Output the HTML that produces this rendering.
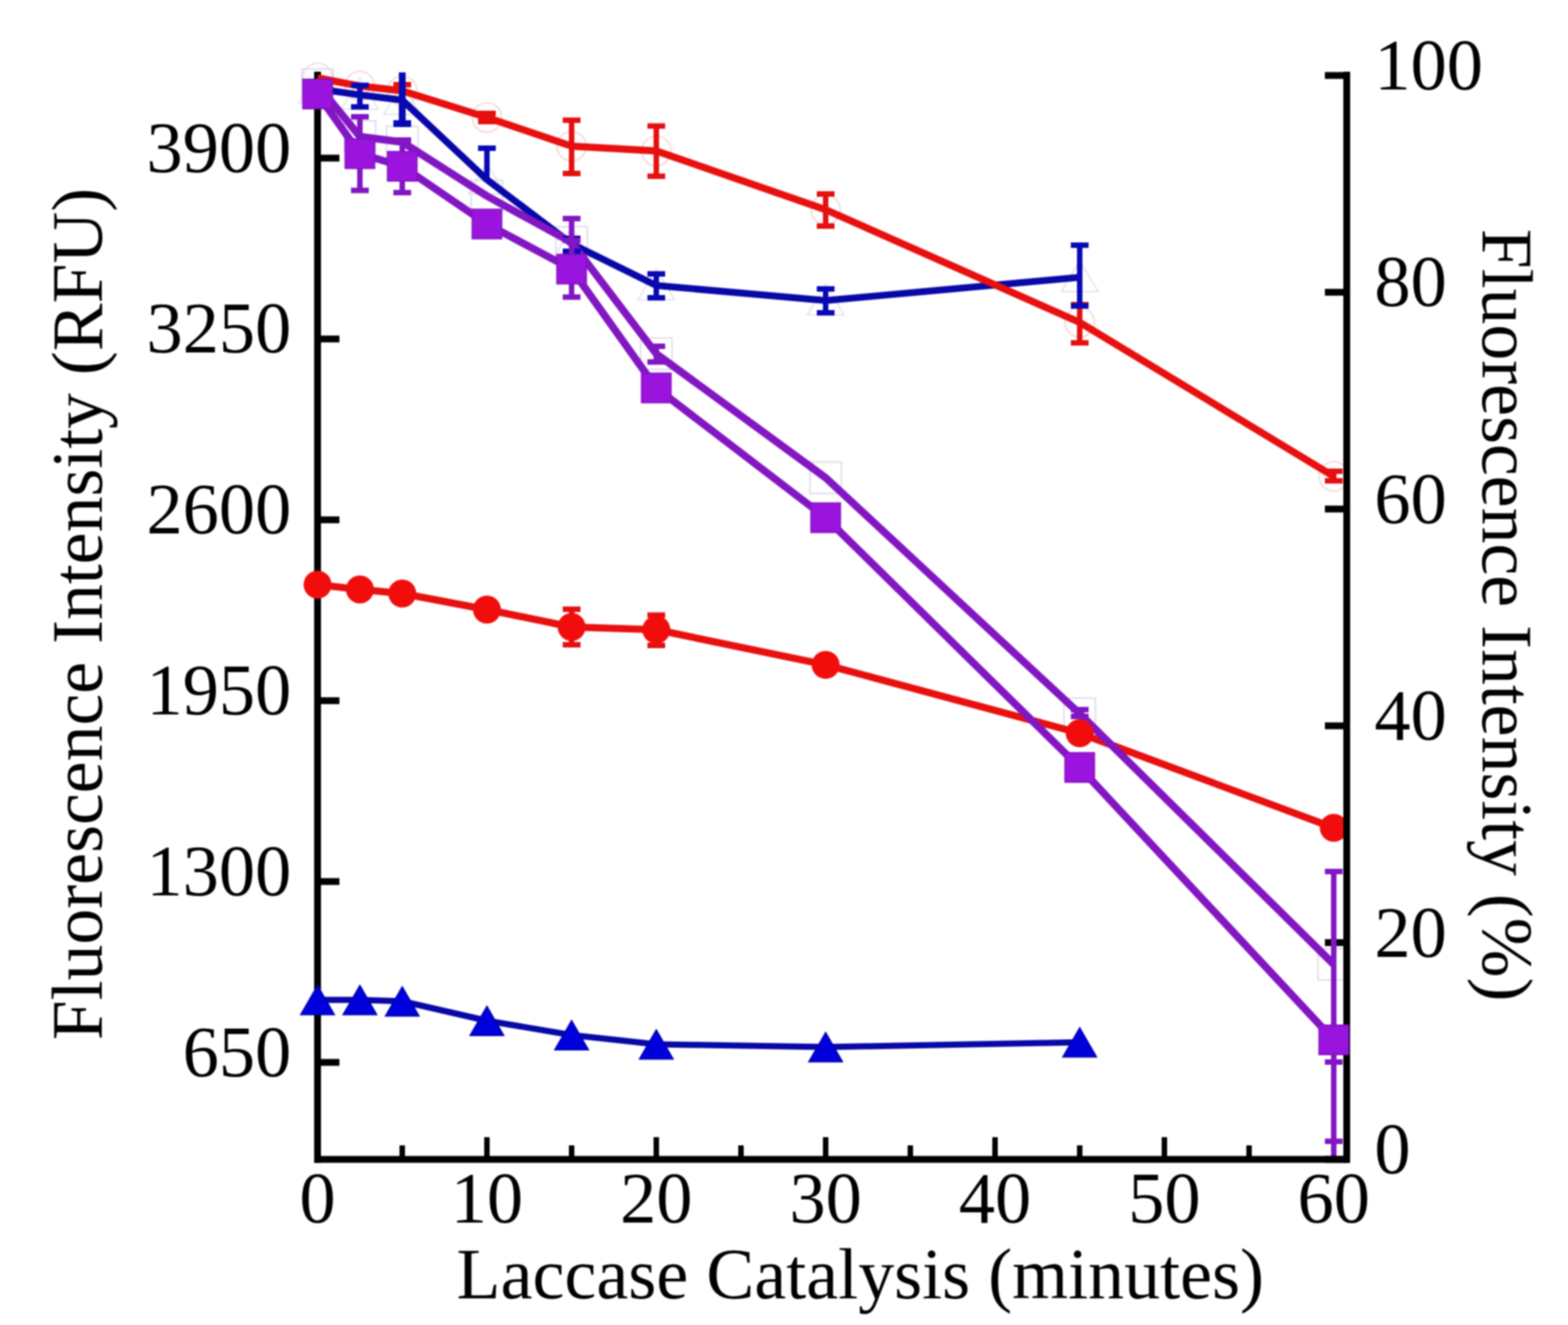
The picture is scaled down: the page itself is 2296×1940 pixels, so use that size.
<!DOCTYPE html>
<html><head><meta charset="utf-8"><title>Laccase Catalysis</title>
<style>
html,body{margin:0;padding:0;background:#fff;}
body{width:2296px;height:1940px;overflow:hidden;}
svg{display:block;filter:blur(0.9px);}
text{font-family:'Liberation Serif','Times New Roman',serif;fill:#000;}
</style></head><body>
<svg width="2296" height="1940" viewBox="0 0 2296 1940">
<rect width="2296" height="1940" fill="#fff"/>

<circle cx="465.0" cy="114.0" r="21.5" fill="none" stroke="#f6d6d6" stroke-width="2.2"/>
<circle cx="527.0" cy="126.0" r="21.5" fill="none" stroke="#f6d6d6" stroke-width="2.2"/>
<circle cx="589.0" cy="133.0" r="21.5" fill="none" stroke="#f6d6d6" stroke-width="2.2"/>
<circle cx="713.0" cy="172.0" r="21.5" fill="none" stroke="#f6d6d6" stroke-width="2.2"/>
<circle cx="837.0" cy="214.0" r="21.5" fill="none" stroke="#f6d6d6" stroke-width="2.2"/>
<circle cx="961.0" cy="221.0" r="21.5" fill="none" stroke="#f6d6d6" stroke-width="2.2"/>
<circle cx="1209.0" cy="307.0" r="21.5" fill="none" stroke="#f6d6d6" stroke-width="2.2"/>
<circle cx="1581.0" cy="472.0" r="21.5" fill="none" stroke="#f6d6d6" stroke-width="2.2"/>
<circle cx="1953.0" cy="697.5" r="21.5" fill="none" stroke="#f6d6d6" stroke-width="2.2"/>
<polygon points="465.0,106.0 438.0,151.0 492.0,151.0" fill="none" stroke="#e4e4f2" stroke-width="2.2"/>
<polygon points="527.0,115.0 500.0,160.0 554.0,160.0" fill="none" stroke="#e4e4f2" stroke-width="2.2"/>
<polygon points="589.0,122.5 562.0,167.5 616.0,167.5" fill="none" stroke="#e4e4f2" stroke-width="2.2"/>
<polygon points="713.0,239.0 686.0,284.0 740.0,284.0" fill="none" stroke="#e4e4f2" stroke-width="2.2"/>
<polygon points="837.0,333.0 810.0,378.0 864.0,378.0" fill="none" stroke="#e4e4f2" stroke-width="2.2"/>
<polygon points="961.0,394.0 934.0,439.0 988.0,439.0" fill="none" stroke="#e4e4f2" stroke-width="2.2"/>
<polygon points="1209.0,416.0 1182.0,461.0 1236.0,461.0" fill="none" stroke="#e4e4f2" stroke-width="2.2"/>
<polygon points="1581.0,382.0 1554.0,427.0 1608.0,427.0" fill="none" stroke="#e4e4f2" stroke-width="2.2"/>
<rect x="442.0" y="101.0" width="46" height="46" fill="none" stroke="#e0dbec" stroke-width="2.2"/>
<rect x="504.0" y="177.0" width="46" height="46" fill="none" stroke="#e0dbec" stroke-width="2.2"/>
<rect x="566.0" y="185.0" width="46" height="46" fill="none" stroke="#e0dbec" stroke-width="2.2"/>
<rect x="690.0" y="264.0" width="46" height="46" fill="none" stroke="#e0dbec" stroke-width="2.2"/>
<rect x="814.0" y="332.0" width="46" height="46" fill="none" stroke="#e0dbec" stroke-width="2.2"/>
<rect x="938.0" y="495.0" width="46" height="46" fill="none" stroke="#e0dbec" stroke-width="2.2"/>
<rect x="1186.0" y="676.5" width="46" height="46" fill="none" stroke="#e0dbec" stroke-width="2.2"/>
<rect x="1558.0" y="1022.0" width="46" height="46" fill="none" stroke="#e0dbec" stroke-width="2.2"/>
<rect x="1930.0" y="1389.0" width="46" height="46" fill="none" stroke="#e0dbec" stroke-width="2.2"/>
<g id="axes">
<line x1="465" y1="105" x2="465" y2="1702.5" stroke="#000" stroke-width="10"/>
<line x1="1972" y1="105" x2="1972" y2="1702.5" stroke="#000" stroke-width="10"/>
<line x1="460" y1="1697.5" x2="1977" y2="1697.5" stroke="#000" stroke-width="10"/>
<line x1="465" y1="231.5" x2="497" y2="231.5" stroke="#000" stroke-width="10"/>
<line x1="465" y1="496.3" x2="497" y2="496.3" stroke="#000" stroke-width="10"/>
<line x1="465" y1="761.1" x2="497" y2="761.1" stroke="#000" stroke-width="10"/>
<line x1="465" y1="1025.9" x2="497" y2="1025.9" stroke="#000" stroke-width="10"/>
<line x1="465" y1="1290.7" x2="497" y2="1290.7" stroke="#000" stroke-width="10"/>
<line x1="465" y1="1555.5" x2="497" y2="1555.5" stroke="#000" stroke-width="10"/>
<line x1="1940" y1="110.5" x2="1972" y2="110.5" stroke="#000" stroke-width="10"/>
<line x1="1940" y1="427.9" x2="1972" y2="427.9" stroke="#000" stroke-width="10"/>
<line x1="1940" y1="745.3" x2="1972" y2="745.3" stroke="#000" stroke-width="10"/>
<line x1="1940" y1="1062.7" x2="1972" y2="1062.7" stroke="#000" stroke-width="10"/>
<line x1="1940" y1="1380.1" x2="1972" y2="1380.1" stroke="#000" stroke-width="10"/>
<line x1="1940" y1="1697.5" x2="1972" y2="1697.5" stroke="#000" stroke-width="10"/>
<line x1="465.0" y1="1665" x2="465.0" y2="1697.5" stroke="#000" stroke-width="8"/>
<line x1="589.0" y1="1677" x2="589.0" y2="1697.5" stroke="#000" stroke-width="8"/>
<line x1="713.0" y1="1665" x2="713.0" y2="1697.5" stroke="#000" stroke-width="8"/>
<line x1="837.0" y1="1677" x2="837.0" y2="1697.5" stroke="#000" stroke-width="8"/>
<line x1="961.0" y1="1665" x2="961.0" y2="1697.5" stroke="#000" stroke-width="8"/>
<line x1="1085.0" y1="1677" x2="1085.0" y2="1697.5" stroke="#000" stroke-width="8"/>
<line x1="1209.0" y1="1665" x2="1209.0" y2="1697.5" stroke="#000" stroke-width="8"/>
<line x1="1333.0" y1="1677" x2="1333.0" y2="1697.5" stroke="#000" stroke-width="8"/>
<line x1="1457.0" y1="1665" x2="1457.0" y2="1697.5" stroke="#000" stroke-width="8"/>
<line x1="1581.0" y1="1677" x2="1581.0" y2="1697.5" stroke="#000" stroke-width="8"/>
<line x1="1705.0" y1="1665" x2="1705.0" y2="1697.5" stroke="#000" stroke-width="8"/>
<line x1="1829.0" y1="1677" x2="1829.0" y2="1697.5" stroke="#000" stroke-width="8"/>
<line x1="1953.0" y1="1665" x2="1953.0" y2="1697.5" stroke="#000" stroke-width="8"/>
</g>
<g font-size="106">
<text x="426.5" y="251.5" text-anchor="end">3900</text>
<text x="426.5" y="516.3" text-anchor="end">3250</text>
<text x="426.5" y="781.1" text-anchor="end">2600</text>
<text x="426.5" y="1045.9" text-anchor="end">1950</text>
<text x="426.5" y="1310.7" text-anchor="end">1300</text>
<text x="426.5" y="1575.5" text-anchor="end">650</text>
<text x="2012.5" y="131.0">100</text>
<text x="2012.5" y="448.4">80</text>
<text x="2012.5" y="765.8">60</text>
<text x="2012.5" y="1083.2">40</text>
<text x="2012.5" y="1400.6">20</text>
<text x="2012.5" y="1718.0">0</text>
<text x="465.0" y="1789.5" text-anchor="middle">0</text>
<text x="713.0" y="1789.5" text-anchor="middle">10</text>
<text x="961.0" y="1789.5" text-anchor="middle">20</text>
<text x="1209.0" y="1789.5" text-anchor="middle">30</text>
<text x="1457.0" y="1789.5" text-anchor="middle">40</text>
<text x="1705.0" y="1789.5" text-anchor="middle">50</text>
<text x="1953.0" y="1789.5" text-anchor="middle">60</text>
</g>
<text font-size="105.4" x="668.6" y="1901">Laccase Catalysis (minutes)</text>
<text font-size="105" transform="translate(148.6,1523) rotate(-90)">Fluorescence Intensity (RFU)</text>
<text font-size="105" transform="translate(2170.5,335) rotate(90)">Fluorescence Intensity (%)</text>
<polyline points="465.0,856.0 527.0,863.0 589.0,869.0 713.0,892.5 837.0,918.0 961.0,922.0 1209.0,973.4 1581.0,1073.5 1953.0,1212.0" fill="none" stroke="#e8100f" stroke-width="10.5" stroke-linejoin="round" stroke-linecap="butt"/>
<polyline points="465.0,1464.0 527.0,1464.0 589.0,1466.0 713.0,1494.5 837.0,1515.5 961.0,1529.0 1209.0,1533.0 1581.0,1526.0" fill="none" stroke="#0808a8" stroke-width="9" stroke-linejoin="round" stroke-linecap="butt"/>
<polyline points="465.0,130.0 527.0,139.0 589.0,146.5 713.0,263.0 837.0,357.0 961.0,418.0 1209.0,440.0 1581.0,406.0" fill="none" stroke="#0808a8" stroke-width="10" stroke-linejoin="round" stroke-linecap="butt"/>
<polyline points="465.0,114.0 527.0,126.0 589.0,133.0 713.0,172.0 837.0,214.0 961.0,221.0 1209.0,307.0 1581.0,472.0 1953.0,697.5" fill="none" stroke="#e8100f" stroke-width="10.5" stroke-linejoin="round" stroke-linecap="butt"/>
<polyline points="465.0,137.6 527.0,225.0 589.0,243.5 713.0,328.0 837.0,394.0 961.0,568.0 1209.0,758.0 1581.0,1123.7 1953.0,1522.5" fill="none" stroke="#8216c2" stroke-width="11" stroke-linejoin="round" stroke-linecap="butt"/>
<polyline points="465.0,124.0 527.0,200.0 589.0,208.0 713.0,287.0 837.0,355.0 961.0,518.0 1209.0,699.5 1581.0,1045.0 1953.0,1412.0" fill="none" stroke="#8216c2" stroke-width="11" stroke-linejoin="round" stroke-linecap="butt"/>
<line x1="589.0" y1="124.0" x2="589.0" y2="134.0" stroke="#e4100f" stroke-width="8"/><line x1="576.0" y1="124.0" x2="602.0" y2="124.0" stroke="#e4100f" stroke-width="8"/>
<line x1="713.0" y1="166.0" x2="713.0" y2="178.0" stroke="#e4100f" stroke-width="8"/><line x1="700.0" y1="166.0" x2="726.0" y2="166.0" stroke="#e4100f" stroke-width="8"/><line x1="700.0" y1="178.0" x2="726.0" y2="178.0" stroke="#e4100f" stroke-width="8"/>
<line x1="837.0" y1="176.0" x2="837.0" y2="254.0" stroke="#e4100f" stroke-width="8"/><line x1="824.0" y1="176.0" x2="850.0" y2="176.0" stroke="#e4100f" stroke-width="8"/><line x1="824.0" y1="254.0" x2="850.0" y2="254.0" stroke="#e4100f" stroke-width="8"/>
<line x1="961.0" y1="184.5" x2="961.0" y2="258.0" stroke="#e4100f" stroke-width="8"/><line x1="948.0" y1="184.5" x2="974.0" y2="184.5" stroke="#e4100f" stroke-width="8"/><line x1="948.0" y1="258.0" x2="974.0" y2="258.0" stroke="#e4100f" stroke-width="8"/>
<line x1="1209.0" y1="284.0" x2="1209.0" y2="331.0" stroke="#e4100f" stroke-width="8"/><line x1="1196.0" y1="284.0" x2="1222.0" y2="284.0" stroke="#e4100f" stroke-width="8"/><line x1="1196.0" y1="331.0" x2="1222.0" y2="331.0" stroke="#e4100f" stroke-width="8"/>
<line x1="1581.0" y1="446.0" x2="1581.0" y2="502.0" stroke="#e4100f" stroke-width="8"/><line x1="1568.0" y1="446.0" x2="1594.0" y2="446.0" stroke="#e4100f" stroke-width="8"/><line x1="1568.0" y1="502.0" x2="1594.0" y2="502.0" stroke="#e4100f" stroke-width="8"/>
<line x1="1953.0" y1="690.0" x2="1953.0" y2="704.0" stroke="#e4100f" stroke-width="8"/><line x1="1940.0" y1="690.0" x2="1966.0" y2="690.0" stroke="#e4100f" stroke-width="8"/><line x1="1940.0" y1="704.0" x2="1966.0" y2="704.0" stroke="#e4100f" stroke-width="8"/>
<line x1="837.0" y1="892.0" x2="837.0" y2="944.0" stroke="#e4100f" stroke-width="8"/><line x1="824.0" y1="892.0" x2="850.0" y2="892.0" stroke="#e4100f" stroke-width="8"/><line x1="824.0" y1="944.0" x2="850.0" y2="944.0" stroke="#e4100f" stroke-width="8"/>
<line x1="961.0" y1="900.6" x2="961.0" y2="945.0" stroke="#e4100f" stroke-width="8"/><line x1="948.0" y1="900.6" x2="974.0" y2="900.6" stroke="#e4100f" stroke-width="8"/><line x1="948.0" y1="945.0" x2="974.0" y2="945.0" stroke="#e4100f" stroke-width="8"/>
<line x1="527.0" y1="125.0" x2="527.0" y2="156.5" stroke="#0808b4" stroke-width="8"/><line x1="514.0" y1="125.0" x2="540.0" y2="125.0" stroke="#0808b4" stroke-width="8"/><line x1="514.0" y1="156.5" x2="540.0" y2="156.5" stroke="#0808b4" stroke-width="8"/>
<line x1="589.0" y1="106.0" x2="589.0" y2="181.0" stroke="#0808b4" stroke-width="10"/><line x1="576.0" y1="181.0" x2="602.0" y2="181.0" stroke="#0808b4" stroke-width="10"/>
<line x1="713.0" y1="217.0" x2="713.0" y2="263.0" stroke="#0808b4" stroke-width="8"/><line x1="700.0" y1="217.0" x2="726.0" y2="217.0" stroke="#0808b4" stroke-width="8"/>
<line x1="837.0" y1="349.0" x2="837.0" y2="368.0" stroke="#0808b4" stroke-width="8"/><line x1="824.0" y1="349.0" x2="850.0" y2="349.0" stroke="#0808b4" stroke-width="8"/><line x1="824.0" y1="368.0" x2="850.0" y2="368.0" stroke="#0808b4" stroke-width="8"/>
<line x1="961.0" y1="401.0" x2="961.0" y2="436.0" stroke="#0808b4" stroke-width="8"/><line x1="948.0" y1="401.0" x2="974.0" y2="401.0" stroke="#0808b4" stroke-width="8"/><line x1="948.0" y1="436.0" x2="974.0" y2="436.0" stroke="#0808b4" stroke-width="8"/>
<line x1="1209.0" y1="423.0" x2="1209.0" y2="458.0" stroke="#0808b4" stroke-width="8"/><line x1="1196.0" y1="423.0" x2="1222.0" y2="423.0" stroke="#0808b4" stroke-width="8"/><line x1="1196.0" y1="458.0" x2="1222.0" y2="458.0" stroke="#0808b4" stroke-width="8"/>
<line x1="1581.0" y1="359.0" x2="1581.0" y2="448.0" stroke="#0808b4" stroke-width="8"/><line x1="1568.0" y1="359.0" x2="1594.0" y2="359.0" stroke="#0808b4" stroke-width="8"/><line x1="1568.0" y1="448.0" x2="1594.0" y2="448.0" stroke="#0808b4" stroke-width="8"/>
<line x1="837.0" y1="320.0" x2="837.0" y2="382.0" stroke="#8216c2" stroke-width="8"/><line x1="824.0" y1="320.0" x2="850.0" y2="320.0" stroke="#8216c2" stroke-width="8"/><line x1="824.0" y1="382.0" x2="850.0" y2="382.0" stroke="#8216c2" stroke-width="8"/>
<line x1="961.0" y1="507.0" x2="961.0" y2="530.0" stroke="#8216c2" stroke-width="8"/><line x1="948.0" y1="507.0" x2="974.0" y2="507.0" stroke="#8216c2" stroke-width="8"/><line x1="948.0" y1="530.0" x2="974.0" y2="530.0" stroke="#8216c2" stroke-width="8"/>
<line x1="1581.0" y1="1039.0" x2="1581.0" y2="1049.0" stroke="#8216c2" stroke-width="8"/><line x1="1568.0" y1="1039.0" x2="1594.0" y2="1039.0" stroke="#8216c2" stroke-width="8"/><line x1="1568.0" y1="1049.0" x2="1594.0" y2="1049.0" stroke="#8216c2" stroke-width="8"/>
<line x1="1953.0" y1="1276.0" x2="1953.0" y2="1555.0" stroke="#8216c2" stroke-width="8"/><line x1="1940.0" y1="1276.0" x2="1966.0" y2="1276.0" stroke="#8216c2" stroke-width="8"/><line x1="1940.0" y1="1555.0" x2="1966.0" y2="1555.0" stroke="#8216c2" stroke-width="8"/>
<line x1="527.0" y1="171.0" x2="527.0" y2="278.8" stroke="#8216c2" stroke-width="8"/><line x1="514.0" y1="171.0" x2="540.0" y2="171.0" stroke="#8216c2" stroke-width="8"/><line x1="514.0" y1="278.8" x2="540.0" y2="278.8" stroke="#8216c2" stroke-width="8"/>
<line x1="589.0" y1="205.0" x2="589.0" y2="282.0" stroke="#8216c2" stroke-width="8"/><line x1="576.0" y1="205.0" x2="602.0" y2="205.0" stroke="#8216c2" stroke-width="8"/><line x1="576.0" y1="282.0" x2="602.0" y2="282.0" stroke="#8216c2" stroke-width="8"/>
<line x1="837.0" y1="352.0" x2="837.0" y2="435.0" stroke="#8216c2" stroke-width="8"/><line x1="824.0" y1="352.0" x2="850.0" y2="352.0" stroke="#8216c2" stroke-width="8"/><line x1="824.0" y1="435.0" x2="850.0" y2="435.0" stroke="#8216c2" stroke-width="8"/>
<line x1="1953.0" y1="1374.0" x2="1953.0" y2="1671.0" stroke="#8216c2" stroke-width="8"/><line x1="1940.0" y1="1671.0" x2="1966.0" y2="1671.0" stroke="#8216c2" stroke-width="8"/>
<line x1="1953.0" y1="1671" x2="1953.0" y2="1692" stroke="#8216c2" stroke-width="8"/>
<circle cx="465.0" cy="856.0" r="20.5" fill="#f20d0d"/>
<circle cx="527.0" cy="863.0" r="20.5" fill="#f20d0d"/>
<circle cx="589.0" cy="869.0" r="20.5" fill="#f20d0d"/>
<circle cx="713.0" cy="892.5" r="20.5" fill="#f20d0d"/>
<circle cx="837.0" cy="918.0" r="20.5" fill="#f20d0d"/>
<circle cx="961.0" cy="922.0" r="20.5" fill="#f20d0d"/>
<circle cx="1209.0" cy="973.4" r="20.5" fill="#f20d0d"/>
<circle cx="1581.0" cy="1073.5" r="20.5" fill="#f20d0d"/>
<circle cx="1953.0" cy="1212.0" r="20.5" fill="#f20d0d"/>
<line x1="1972" y1="1180" x2="1972" y2="1245" stroke="#000" stroke-width="10"/>
<polygon points="465.0,1443.0 440.5,1485.5 489.5,1485.5" fill="#0000dc" stroke="#0000b4" stroke-width="2"/>
<polygon points="527.0,1443.0 502.5,1485.5 551.5,1485.5" fill="#0000dc" stroke="#0000b4" stroke-width="2"/>
<polygon points="589.0,1445.0 564.5,1487.5 613.5,1487.5" fill="#0000dc" stroke="#0000b4" stroke-width="2"/>
<polygon points="713.0,1473.5 688.5,1516.0 737.5,1516.0" fill="#0000dc" stroke="#0000b4" stroke-width="2"/>
<polygon points="837.0,1494.5 812.5,1537.0 861.5,1537.0" fill="#0000dc" stroke="#0000b4" stroke-width="2"/>
<polygon points="961.0,1508.0 936.5,1550.5 985.5,1550.5" fill="#0000dc" stroke="#0000b4" stroke-width="2"/>
<polygon points="1209.0,1512.0 1184.5,1554.5 1233.5,1554.5" fill="#0000dc" stroke="#0000b4" stroke-width="2"/>
<polygon points="1581.0,1505.0 1556.5,1547.5 1605.5,1547.5" fill="#0000dc" stroke="#0000b4" stroke-width="2"/>
<rect x="443.5" y="116.1" width="43" height="43" fill="#9a14de" stroke="#8412c0" stroke-width="2"/>
<rect x="505.5" y="203.5" width="43" height="43" fill="#9a14de" stroke="#8412c0" stroke-width="2"/>
<rect x="567.5" y="222.0" width="43" height="43" fill="#9a14de" stroke="#8412c0" stroke-width="2"/>
<rect x="691.5" y="306.5" width="43" height="43" fill="#9a14de" stroke="#8412c0" stroke-width="2"/>
<rect x="815.5" y="372.5" width="43" height="43" fill="#9a14de" stroke="#8412c0" stroke-width="2"/>
<rect x="939.5" y="546.5" width="43" height="43" fill="#9a14de" stroke="#8412c0" stroke-width="2"/>
<rect x="1187.5" y="736.5" width="43" height="43" fill="#9a14de" stroke="#8412c0" stroke-width="2"/>
<rect x="1559.5" y="1102.2" width="43" height="43" fill="#9a14de" stroke="#8412c0" stroke-width="2"/>
<rect x="1931.5" y="1501.0" width="43" height="43" fill="#9a14de" stroke="#8412c0" stroke-width="2"/>
</svg></body></html>
